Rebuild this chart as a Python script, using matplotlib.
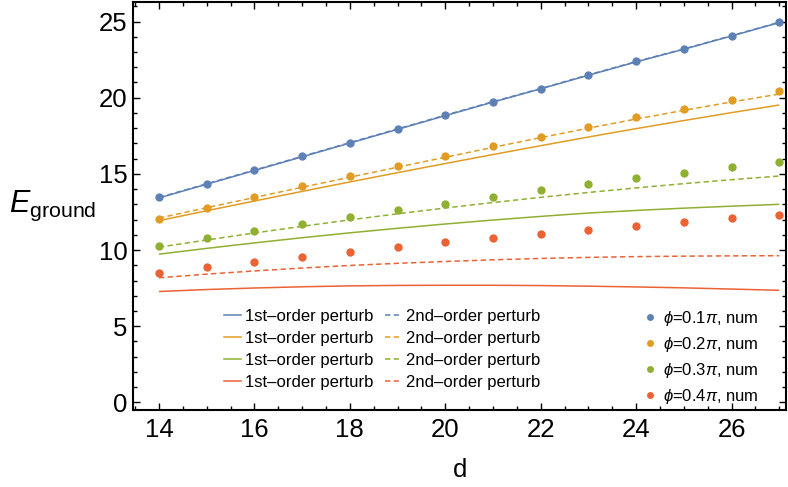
import matplotlib
matplotlib.use("Agg")
import matplotlib.pyplot as plt
from matplotlib.lines import Line2D
from matplotlib.ticker import MultipleLocator

plt.rcParams['font.family'] = ['Liberation Sans', 'DejaVu Sans']
plt.rcParams['mathtext.fontset'] = 'custom'
plt.rcParams['mathtext.rm'] = 'Liberation Sans'
plt.rcParams['mathtext.it'] = 'Liberation Sans:italic'

d = [14, 15, 16, 17, 18, 19, 20, 21, 22, 23, 24, 25, 26, 27]

# numerical results (points)
num_01 = [13.45, 14.35, 15.25, 16.15, 17.05, 17.95, 18.85, 19.75, 20.6, 21.5, 22.38, 23.2, 24.07, 24.95]
num_02 = [12.03, 12.79, 13.5, 14.2, 14.85, 15.5, 16.15, 16.8, 17.45, 18.08, 18.71, 19.28, 19.87, 20.46]
num_03 = [10.28, 10.76, 11.25, 11.7, 12.18, 12.64, 13.03, 13.5, 13.95, 14.34, 14.71, 15.08, 15.46, 15.76]
num_04 = [8.52, 8.88, 9.19, 9.52, 9.87, 10.2, 10.5, 10.78, 11.08, 11.34, 11.61, 11.87, 12.1, 12.33]

# 1st-order perturbation
first_01 = [13.42, 14.32, 15.22, 16.12, 17.02, 17.92, 18.82, 19.71, 20.58, 21.47, 22.35, 23.18, 24.05, 24.93]
first_02 = [11.93, 12.58, 13.22, 13.85, 14.47, 15.08, 15.68, 16.27, 16.85, 17.42, 17.97, 18.5, 19.02, 19.52]
first_03 = [9.73, 10.11, 10.47, 10.81, 11.13, 11.43, 11.71, 11.97, 12.21, 12.43, 12.6, 12.75, 12.88, 13.0]
first_04 = [7.28, 7.41, 7.51, 7.59, 7.65, 7.68, 7.69, 7.69, 7.67, 7.63, 7.58, 7.52, 7.44, 7.36]

# 2nd-order perturbation
second_01 = [13.45, 14.35, 15.25, 16.15, 17.05, 17.95, 18.85, 19.74, 20.6, 21.5, 22.37, 23.2, 24.07, 24.95]
second_02 = [12.1, 12.78, 13.45, 14.12, 14.78, 15.44, 16.09, 16.74, 17.38, 18.0, 18.6, 19.17, 19.72, 20.24]
second_03 = [10.19, 10.66, 11.12, 11.56, 11.98, 12.38, 12.76, 13.12, 13.46, 13.78, 14.08, 14.36, 14.62, 14.86]
second_04 = [8.18, 8.42, 8.63, 8.82, 8.99, 9.13, 9.25, 9.36, 9.45, 9.52, 9.57, 9.6, 9.62, 9.63]

phi_labels = ['0.1', '0.2', '0.3', '0.4']
colors = ['#5E81B5', '#E19C24', '#8FB032', '#EB6235']

nums = [num_01, num_02, num_03, num_04]
firsts = [first_01, first_02, first_03, first_04]
seconds = [second_01, second_02, second_03, second_04]

fig = plt.figure(figsize=(7.88, 4.87), dpi=100)
ax = fig.add_axes([0.169, 0.158, 0.829, 0.8385])

for c, f, s, n in zip(colors, firsts, seconds, nums):
    ax.plot(d, f, color=c, lw=1.1, solid_capstyle='butt')
    ax.plot(d, s, color=c, lw=1.1, ls=(0, (3.5, 2.2)))
    ax.plot(d, n, 'o', color=c, ms=6, mec='none')

ax.set_xlim(13.46, 27.15)
ax.set_ylim(-0.5, 26.3)
ax.xaxis.set_major_locator(MultipleLocator(2))
ax.xaxis.set_minor_locator(MultipleLocator(0.5))
ax.yaxis.set_major_locator(MultipleLocator(5))
ax.yaxis.set_minor_locator(MultipleLocator(1))
ax.tick_params(which='both', direction='in', top=True, right=True, width=1.0, colors='black')
ax.tick_params(which='major', length=5, labelsize=18.5, pad=4)
ax.tick_params(axis='x', which='major', pad=6)
ax.tick_params(which='minor', length=3)
for sp in ax.spines.values():
    sp.set_linewidth(1.5)

ax.set_xlabel('d', fontsize=18.5, labelpad=11)
fig.text(0.012, 0.578, r'$E_{\mathrm{ground}}$', fontsize=22, ha='left', va='center')

h1 = [Line2D([], [], color=c, lw=1.1) for c in colors]
h2 = [Line2D([], [], color=c, lw=1.1, ls=(0, (3.5, 2.2))) for c in colors]
leg1 = ax.legend(h1 + h2, ['1st–order perturb'] * 4 + ['2nd–order perturb'] * 4,
                 ncol=2, frameon=False, fontsize=12, handlelength=1.0,
                 handletextpad=0.25, columnspacing=0.7, labelspacing=0.42,
                 loc='upper left', bbox_to_anchor=(224 / 788, 1 - 309 / 487),
                 bbox_transform=fig.transFigure, borderaxespad=0, borderpad=0)
ax.add_artist(leg1)

h3 = [Line2D([], [], color=c, marker='o', ls='none', ms=5, mec='none') for c in colors]
lab3 = [r'$\phi$=' + p + r'$\pi$, num' for p in phi_labels]
leg2 = ax.legend(h3, lab3, frameon=False, fontsize=12, handlelength=0.8,
                 handletextpad=0.4, labelspacing=0.42,
                 loc='upper left', bbox_to_anchor=(643 / 788, 1 - 309 / 487),
                 bbox_transform=fig.transFigure, borderaxespad=0, borderpad=0)

fig.savefig('out.png', dpi=100)
